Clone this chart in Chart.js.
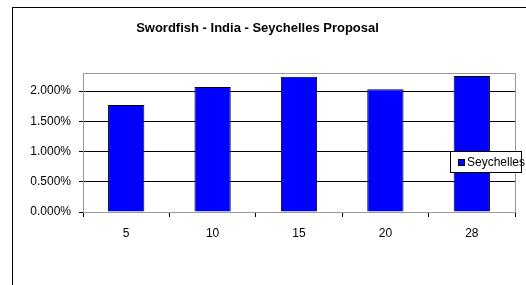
<!DOCTYPE html>
<html>
<head>
<meta charset="utf-8">
<script src="https://cdn.jsdelivr.net/npm/chart.js@4/dist/chart.umd.min.js"></script>
<style>
  html, body { margin: 0; padding: 0; background: #fff; overflow: hidden; }
  #frame { position: absolute; left: 12px; top: 7px; width: 600px; height: 400px; border: 1px solid #000; }
  #wrap { position: absolute; left: 0; top: 0; width: 526px; height: 285px; }
</style>
</head>
<body>
<div id="frame"></div>
<div id="wrap"><canvas id="c"></canvas></div>
<script>
// data (percent)
const categories = ['5', '10', '15', '20', '28'];
const seychelles = [1.77, 2.07, 2.24, 2.03, 2.25];
const seriesName = 'Seychelles';
const titleText = 'Swordfish - India - Seychelles Proposal';
const yMax = 2.3;
const yStep = 0.5;

const FONT = 'Arial, "Liberation Sans", sans-serif';

// grey plot-area border drawn behind the bars
const plotBorder = {
  id: 'plotBorder',
  beforeDatasetsDraw(chart) {
    const { ctx, chartArea: a } = chart;
    ctx.save();
    ctx.strokeStyle = '#9a9a9a';
    ctx.lineWidth = 1;
    ctx.strokeRect(Math.round(a.left) + 0.5, Math.round(a.top) + 0.5,
      Math.round(a.right - a.left), Math.round(a.bottom - a.top));
    ctx.restore();
  }
};

// Excel-style legend box that sits over the plot
const boxLegend = {
  id: 'boxLegend',
  afterDraw(chart) {
    const { ctx } = chart;
    const ds = chart.data.datasets[0];
    const x = 450, y = 151, w = 71, h = 21;
    ctx.save();
    ctx.fillStyle = '#fff';
    ctx.fillRect(x, y, w, h);
    ctx.strokeStyle = '#000';
    ctx.lineWidth = 1;
    ctx.strokeRect(x + 0.5, y + 0.5, w, h);
    ctx.fillStyle = ds.backgroundColor;
    ctx.fillRect(x + 8.5, y + 8.5, 6, 6);
    ctx.strokeRect(x + 8.5, y + 8.5, 6, 6);
    ctx.fillStyle = '#000';
    ctx.font = '12px ' + FONT;
    ctx.textBaseline = 'middle';
    ctx.fillText(ds.label, x + 17, y + h / 2 + 1);
    ctx.restore();
  }
};

new Chart(document.getElementById('c'), {
  type: 'bar',
  data: {
    labels: categories,
    datasets: [{
      label: seriesName,
      data: seychelles,
      backgroundColor: '#0000ff',
      borderColor: '#000',
      borderWidth: 1,
      barPercentage: 0.42,
      categoryPercentage: 1.0,
    }],
  },
  options: {
    responsive: true,
    maintainAspectRatio: false,
    animation: false,
    devicePixelRatio: 1,
    layout: { padding: { left: 0, right: 11, top: 0, bottom: 0 } },
    plugins: {
      legend: { display: false },
      tooltip: { enabled: false },
      title: {
        display: true,
        text: titleText,
        color: '#000',
        font: { family: FONT, size: 13, weight: 'bold' },
        padding: { top: 21, bottom: 36.4 },
      },
    },
    scales: {
      x: {
        offset: true,
        grid: {
          offset: true,
          drawOnChartArea: false,
          drawTicks: true,
          tickLength: 5,
          color: '#000',
        },
        border: { color: '#000', width: 1 },
        ticks: { color: '#000', font: { family: FONT, size: 12 }, padding: 9 },
        afterFit(scale) { scale.height = 73; },
      },
      y: {
        min: 0,
        max: yMax,
        grid: {
          color: (c) => (c.tick && Math.abs(c.tick.value % yStep) > 1e-6 && Math.abs(c.tick.value % yStep - yStep) > 1e-6) ? 'rgba(0,0,0,0)' : '#000',
          tickLength: 4,
        },
        border: { color: '#000', width: 1 },
        ticks: {
          stepSize: yStep,
          color: '#000',
          font: { family: FONT, size: 12 },
          padding: 8,
          callback(v) {
            const r = Math.abs(v / yStep - Math.round(v / yStep));
            return r < 1e-6 ? v.toFixed(3) + '%' : '';
          },
        },
        afterFit(scale) { scale.width = 83; },
      },
    },
  },
  plugins: [plotBorder, boxLegend],
});
</script>
</body>
</html>
